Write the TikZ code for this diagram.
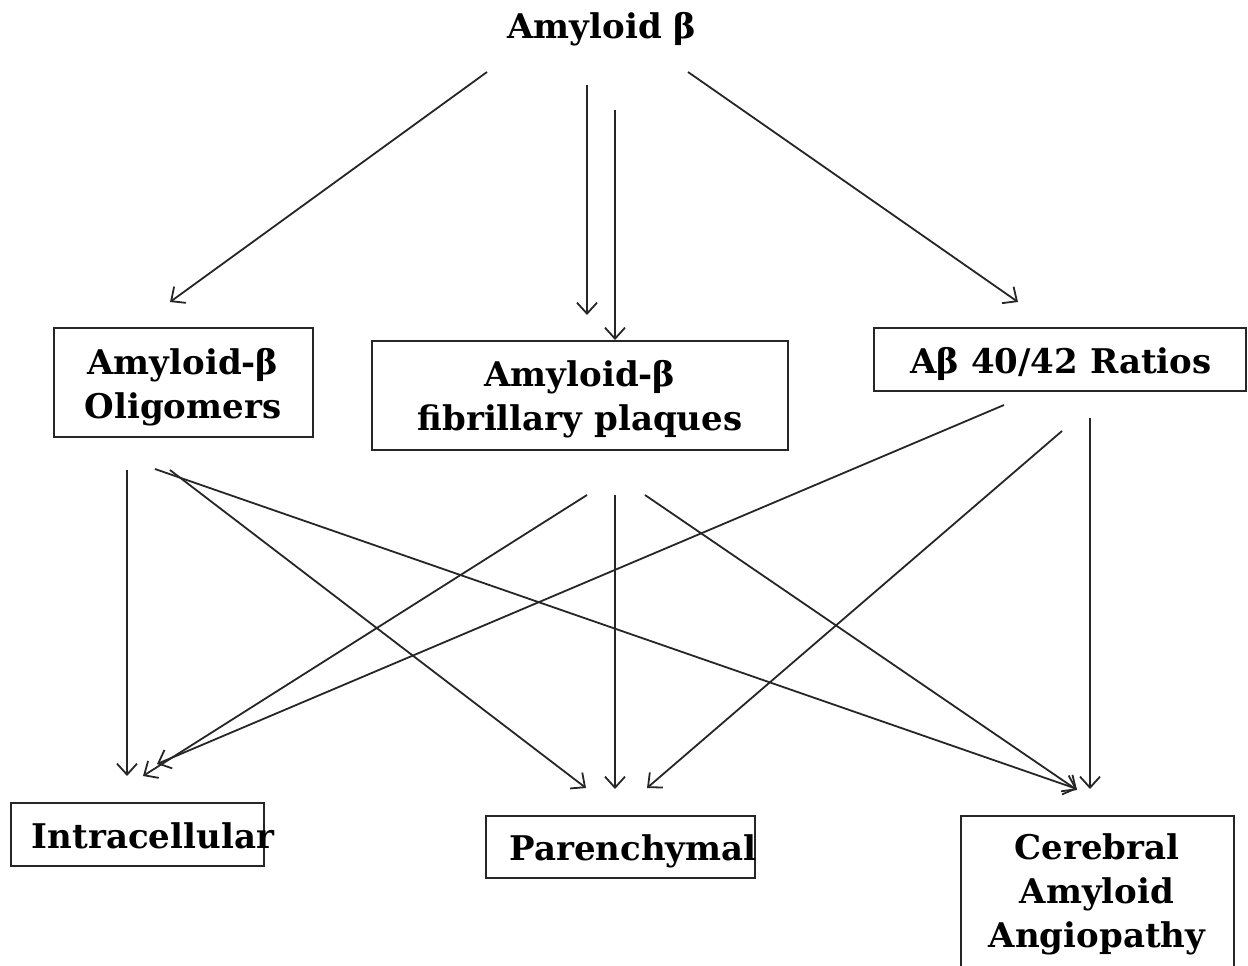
\documentclass[tikz,border=0pt]{standalone}
\usepackage{fontspec}
\setmainfont{DejaVu Serif}
\usetikzlibrary{arrows.meta}
\tikzset{
  lbl/.style={font={\fontsize{34}{44}\selectfont\bfseries}, inner sep=0pt, anchor=base, align=center},
  boxed/.style={draw=black!85, line width=1.8pt},
  conn/.style={draw=black!85, line width=1.8pt, -{Straight Barb[length=11pt,width=20pt,line width=1.8pt]}},
}
\begin{document}
\begin{tikzpicture}[x=1pt,y=-1pt]
\useasboundingbox (0,0) rectangle (1248,966);
% boxes
\draw[boxed] (54,328) rectangle (313,437);
\draw[boxed] (372,341) rectangle (788,450);
\draw[boxed] (874,328) rectangle (1246,391);
\draw[boxed] (11,803) rectangle (264,866);
\draw[boxed] (486,816) rectangle (755,878);
\draw[boxed] (961,816) rectangle (1234,990);
% texts (base anchor = baseline of the last line)
\node[lbl] (top) at (602,39) {Amyloid β};
\node[lbl] (olig) at (183,418) {Amyloid-β\\Oligomers};
\node[lbl] (fib) at (580,430) {Amyloid-β\\fibrillary plaques};
\node[lbl] (ratio) at (1061,373) {Aβ 40/42 Ratios};
\node[lbl] (intra) at (153,848) {Intracellular};
\node[lbl] (paren) at (633,860) {Parenchymal};
\node[lbl] (caa) at (1097,947) {Cerebral\\Amyloid\\Angiopathy};
% connector end points
\coordinate (t1) at (487,72);  \coordinate (t1e) at (170,302);
\coordinate (t2) at (587,85);  \coordinate (t2e) at (587,315);
\coordinate (t3) at (615,110); \coordinate (t3e) at (615,340);
\coordinate (t4) at (688,72);  \coordinate (t4e) at (1018,302);
\coordinate (o1) at (127,470); \coordinate (o1e) at (127,776);
\coordinate (o2) at (155,469); \coordinate (o2e) at (1077,789);
\coordinate (o3) at (170,470); \coordinate (o3e) at (586,788);
\coordinate (f1) at (587,495); \coordinate (f1e) at (143,776);
\coordinate (f2) at (615,495); \coordinate (f2e) at (615,789);
\coordinate (f3) at (645,495); \coordinate (f3e) at (1077,790);
\coordinate (r1) at (1004,405); \coordinate (r1e) at (157,764);
\coordinate (r2) at (1062,431); \coordinate (r2e) at (647,788);
\coordinate (r3) at (1090,418); \coordinate (r3e) at (1090,789);
% connectors
\foreach \a in {t1,t2,t3,t4,o1,o2,o3,f1,f2,f3,r1,r2,r3}
  \draw[conn] (\a) -- (\a e);
\end{tikzpicture}
\end{document}
